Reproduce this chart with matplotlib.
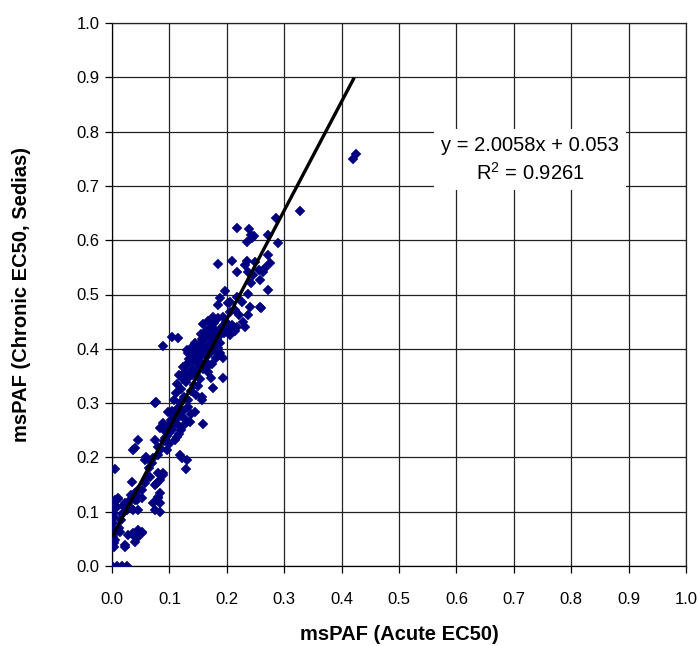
import matplotlib
matplotlib.use("Agg")
import matplotlib.pyplot as plt
import numpy as np

plt.rcParams['font.family'] = ['Liberation Sans', 'DejaVu Sans']
plt.rcParams['mathtext.fontset'] = 'custom'
plt.rcParams['mathtext.rm'] = 'Liberation Sans'

# --- data -----------------------------------------------------------------
# near-zero cluster
x_low = [0.000, 0.008, 0.017, 0.026, 0.003, 0.023, 0.003, 0.006, 0.002, 0.005,
         0.003, 0.002, 0.004, 0.002, 0.005, 0.010, 0.026, 0.037, 0.045, 0.028,
         0.037, 0.044, 0.052, 0.040, 0.005, 0.035, 0.052, 0.015, 0.012, 0.020,
         0.030, 0.045, 0.040, 0.000, 0.023, 0.031, 0.044, 0.010, 0.045, 0.037,
         0.052, 0.023, 0.071, 0.075, 0.080, 0.084, 0.078, 0.089, 0.080, 0.028,
         0.040, 0.046, 0.052, 0.057, 0.063, 0.018, 0.033, 0.008, 0.014]
y_low = [0.000, 0.000, 0.000, 0.000, 0.035, 0.035, 0.042, 0.048, 0.053, 0.060,
         0.066, 0.079, 0.090, 0.098, 0.122, 0.125, 0.103, 0.103, 0.103, 0.057,
         0.057, 0.052, 0.061, 0.044, 0.179, 0.155, 0.125, 0.085, 0.070, 0.110,
         0.120, 0.140, 0.135, 0.118, 0.116, 0.109, 0.122, 0.123, 0.066, 0.061,
         0.063, 0.039, 0.116, 0.103, 0.125, 0.134, 0.153, 0.168, 0.171, 0.116,
         0.122, 0.127, 0.140, 0.153, 0.164, 0.095, 0.130, 0.108, 0.062]

# lower arm of the cloud
x_mid = [0.077, 0.075, 0.098, 0.105, 0.089, 0.084, 0.136, 0.145, 0.157, 0.159,
         0.075, 0.110, 0.045, 0.040, 0.037, 0.057, 0.071, 0.096, 0.118, 0.122,
         0.129, 0.066, 0.075, 0.084, 0.089, 0.080, 0.084, 0.084, 0.065, 0.070,
         0.080, 0.085, 0.090, 0.095, 0.100, 0.100, 0.105, 0.110, 0.110, 0.115,
         0.115, 0.120, 0.125, 0.100, 0.090, 0.105, 0.060, 0.080, 0.113, 0.131,
         0.157, 0.176, 0.193, 0.093, 0.102, 0.108, 0.117]
y_mid = [0.302, 0.300, 0.284, 0.269, 0.263, 0.254, 0.265, 0.284, 0.306, 0.262,
         0.232, 0.232, 0.232, 0.217, 0.214, 0.195, 0.199, 0.214, 0.204, 0.199,
         0.179, 0.164, 0.149, 0.158, 0.171, 0.127, 0.099, 0.116, 0.180, 0.190,
         0.205, 0.215, 0.230, 0.240, 0.245, 0.260, 0.250, 0.270, 0.280, 0.260,
         0.290, 0.250, 0.260, 0.225, 0.250, 0.285, 0.200, 0.220, 0.238, 0.195,
         0.311, 0.328, 0.346, 0.236, 0.252, 0.262, 0.243]

# dense core
x_core = [0.108, 0.112, 0.118, 0.121, 0.126, 0.129, 0.133, 0.137, 0.142, 0.147,
          0.114, 0.124,
          0.117, 0.123, 0.128, 0.131, 0.136, 0.139, 0.143, 0.146, 0.151, 0.154,
          0.158, 0.163, 0.168, 0.172, 0.134, 0.149,
          0.132, 0.138, 0.141, 0.145, 0.149, 0.153, 0.156, 0.159, 0.162, 0.166,
          0.169, 0.173, 0.177, 0.181, 0.185, 0.189, 0.194, 0.157, 0.171,
          0.155, 0.159, 0.163, 0.167, 0.170, 0.174, 0.178, 0.181, 0.184, 0.187,
          0.191, 0.195, 0.198, 0.202, 0.206, 0.209, 0.214, 0.218, 0.176, 0.193,
          0.102, 0.107, 0.111, 0.115, 0.119, 0.123, 0.127, 0.132, 0.138,
          0.140, 0.144, 0.152, 0.161, 0.165, 0.175, 0.179, 0.183, 0.188, 0.150]
y_core = [0.305, 0.318, 0.300, 0.326, 0.312, 0.338, 0.305, 0.322, 0.334, 0.315,
          0.335, 0.345,
          0.352, 0.366, 0.357, 0.372, 0.349, 0.363, 0.378, 0.356, 0.369, 0.344,
          0.362, 0.375, 0.358, 0.346, 0.381, 0.385,
          0.392, 0.402, 0.389, 0.410, 0.396, 0.405, 0.388, 0.415, 0.399, 0.386,
          0.407, 0.394, 0.412, 0.383, 0.401, 0.392, 0.383, 0.418, 0.419,
          0.428, 0.445, 0.432, 0.452, 0.438, 0.426, 0.447, 0.433, 0.456, 0.424,
          0.441, 0.429, 0.450, 0.436, 0.425, 0.444, 0.432, 0.440, 0.458, 0.459,
          0.268, 0.282, 0.272, 0.291, 0.277, 0.286, 0.271, 0.293, 0.280,
          0.352, 0.395, 0.378, 0.424, 0.366, 0.372, 0.396, 0.418, 0.410, 0.332]

# upper part of the cloud and outliers
x_high = [0.328, 0.286, 0.218, 0.239, 0.242, 0.235, 0.247, 0.272, 0.289, 0.185,
          0.209, 0.235, 0.249, 0.218, 0.232, 0.237, 0.246, 0.258, 0.256, 0.272,
          0.275, 0.267, 0.263, 0.242, 0.272, 0.197, 0.188, 0.218, 0.237, 0.226,
          0.240, 0.258, 0.185, 0.206, 0.237, 0.228, 0.232, 0.259, 0.105, 0.115,
          0.089, 0.131, 0.205, 0.215, 0.222, 0.202, 0.244, 0.420, 0.425]
y_high = [0.654, 0.641, 0.622, 0.620, 0.610, 0.597, 0.608, 0.610, 0.595, 0.556,
          0.562, 0.562, 0.560, 0.541, 0.554, 0.541, 0.536, 0.527, 0.545, 0.573,
          0.558, 0.549, 0.541, 0.521, 0.508, 0.506, 0.494, 0.495, 0.501, 0.486,
          0.477, 0.477, 0.481, 0.486, 0.462, 0.449, 0.440, 0.475, 0.422, 0.420,
          0.405, 0.398, 0.468, 0.472, 0.463, 0.484, 0.604, 0.750, 0.758]

slope = 2.0058
intercept = 0.053
r_squared = 0.9261
fit_x_end = 0.422

xticks = [0.0, 0.1, 0.2, 0.3, 0.4, 0.5, 0.6, 0.7, 0.8, 0.9, 1.0]
yticks = [0.0, 0.1, 0.2, 0.3, 0.4, 0.5, 0.6, 0.7, 0.8, 0.9, 1.0]
xlabel = "msPAF (Acute EC50)"
ylabel = "msPAF (Chronic EC50, Sedias)"

# --- figure -----------------------------------------------------------------
fig = plt.figure(figsize=(7.0, 6.46), dpi=100)
ax = fig.add_axes([112/700, 1 - 566/646, 574/700, 543/646])

xs = np.array(x_low + x_mid + x_core + x_high)
ys = np.array(y_low + y_mid + y_core + y_high)
ax.plot(xs, ys, linestyle='none', marker='D', markersize=5.0,
        markerfacecolor='#000080', markeredgecolor='#000080',
        markeredgewidth=0.3, zorder=3)

fx = np.array([0.0, fit_x_end])
ax.plot(fx, slope * fx + intercept, color='black', linewidth=2.4, zorder=4,
        solid_capstyle='butt')

ax.set_xlim(0, 1.0)
ax.set_ylim(0, 1.0)
ax.set_xticks(xticks)
ax.set_yticks(yticks)
ax.set_xticklabels([f"{t:.1f}" for t in xticks])
ax.set_yticklabels([f"{t:.1f}" for t in yticks])
ax.tick_params(axis='both', direction='out', length=5, width=0.9,
               labelsize=12, color='black')
ax.tick_params(axis='x', pad=14)
ax.tick_params(axis='y', pad=4)
ax.grid(True, color='#222222', linewidth=0.9, zorder=0)
ax.set_axisbelow(True)
for s in ax.spines.values():
    s.set_color('#222222')
    s.set_linewidth(0.9)
ax.spines['left'].set_color('black')
ax.spines['bottom'].set_color('black')

ax.set_xlabel(xlabel, fontsize=14.5, fontweight='bold', labelpad=13)
ax.set_ylabel(ylabel, fontsize=14.5, fontweight='bold', labelpad=33)

eq = f"y = {slope:.4f}x + {intercept:.3f}\nR$^2$ = {r_squared:.4f}"
ax.text(0.728, 0.748, eq, fontsize=14.5, ha='center', va='center',
        multialignment='center', linespacing=1.35, zorder=5,
        bbox=dict(facecolor='white', edgecolor='none', pad=5))

fig.savefig("out.png", dpi=100)
